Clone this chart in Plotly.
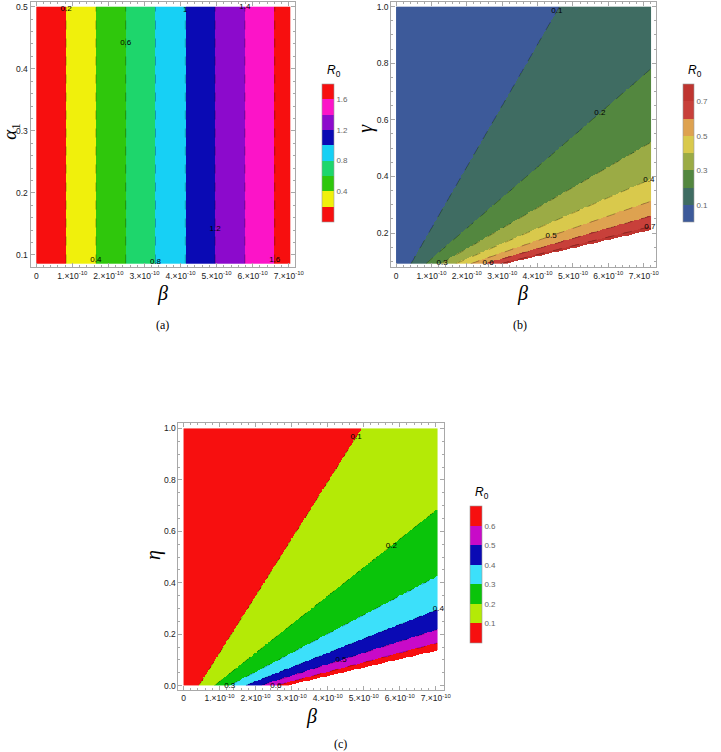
import numpy as np
import plotly.graph_objects as go

W, H = 721, 752

# ---- values ----
beta_ticks = [0, 1e-10, 2e-10, 3e-10, 4e-10, 5e-10, 6e-10, 7e-10]
beta_ticktext = ["0"] + [f"{i}.×10<sup>-10</sup>" for i in range(1, 8)]

# (a) R0 grows linearly with beta, independent of alpha_1
a_beta_max = 7.05e-10
a_alpha_range = [0.0855, 0.5]
a_r0_per_beta = 2.42e9
a_levels = [0.2, 0.4, 0.6, 0.8, 1.0, 1.2, 1.4, 1.6]
a_label_text = ["0.2", "0.4", "0.6", "0.8", "1", "1.2", "1.4", "1.6"]
a_label_alpha = [0.496, 0.092, 0.442, 0.089, 0.494, 0.142, 0.4995, 0.092]
a_colors = ["#f70f0f", "#f0f00c", "#2fc70c", "#1ed66c", "#17d0f5",
            "#0a0ab4", "#8c0acc", "#fc14c8", "#f70f0f"]
a_cbar_ticks = [0.4, 0.8, 1.2, 1.6]

# (b) R0 = coef * beta / gamma, blank above cutoff
b_beta_max = 7.2e-10
b_gamma_range = [0.09, 1.0]
b_coef = 2.167e8
b_cutoff = 0.745
b_levels = [0.1, 0.2, 0.3, 0.4, 0.5, 0.6, 0.7]
b_label_gamma = [0.985, 0.624, 0.094, 0.387, 0.19, 0.094, 0.222]
b_colors = ["#3d5a9a", "#3f6c62", "#53873f", "#9bab45", "#d9c94c",
            "#dea250", "#c8403a", "#bf3530"]
b_cbar_ticks = [0.1, 0.3, 0.5, 0.7]

# (c) R0 = coef * beta / (eta + shift), blank above cutoff
c_beta_max = 7.05e-10
c_eta_range = [0.0, 1.0]
c_coef = 2.215e8
c_shift = 0.0946
c_cutoff = 0.675
c_levels = [0.1, 0.2, 0.3, 0.4, 0.5, 0.6]
c_label_eta = [0.966, 0.544, 0.0, 0.297, 0.099, 0.0]
c_colors = ["#f70f0f", "#b4ea06", "#0ac40a", "#3ce0fa", "#0a0ab4",
            "#c80ac8", "#f70f0f"]
c_cbar_ticks = [0.1, 0.2, 0.3, 0.4, 0.5, 0.6]

N = 320


def px(x):
    return x / W


def py(y):
    return 1 - y / H


def steps(colors):
    n = len(colors)
    cs = []
    for i, c in enumerate(colors):
        cs.append([i / n, c])
        cs.append([(i + 1) / n, c])
    return cs


def grid(xmax, yr):
    dx = xmax / N
    dy = (yr[1] - yr[0]) / N
    x = np.linspace(dx / 2, xmax - dx / 2, N)
    y = np.linspace(yr[0] + dy / 2, yr[1] - dy / 2, N)
    return x, y


fig = go.Figure()

# panel a
ax_, ay_ = grid(a_beta_max, a_alpha_range)
BX, AY = np.meshgrid(ax_, ay_)
za = (a_r0_per_beta * BX + 0 * AY).astype(np.float32)

# panel b
bx_, by_ = grid(b_beta_max, b_gamma_range)
BX, GY = np.meshgrid(bx_, by_)
zb = (b_coef * BX / GY)
zb_fill = np.where(zb > b_cutoff, np.nan, zb).astype(np.float32)

# panel c
cx_, cy_ = grid(c_beta_max, c_eta_range)
BX, EY = np.meshgrid(cx_, cy_)
zc = (c_coef * BX / (EY + c_shift))
zc_fill = np.where(zc > c_cutoff, np.nan, zc).astype(np.float32)

# contour label spots: beta on each level line at the read-off height
a_label_beta = [lv / a_r0_per_beta for lv in a_levels]
b_label_beta = [lv * g / b_coef for lv, g in zip(b_levels, b_label_gamma)]
c_label_beta = [lv * (e + c_shift) / c_coef for lv, e in zip(c_levels, c_label_eta)]

panels = [
    dict(x=ax_, y=ay_, zf=za, zl=za, colors=a_colors, zmax=0.2 * len(a_colors),
         levels=a_levels, ticks=a_cbar_ticks, xa="x", ya="y",
         lab=(a_label_beta, a_label_alpha, a_label_text),
         cb=dict(x0=327, y0=83.3, y1=221, th=12)),
    dict(x=bx_, y=by_, zf=zb_fill, zl=zb.astype(np.float32), colors=b_colors,
         zmax=0.1 * len(b_colors), levels=b_levels, ticks=b_cbar_ticks,
         xa="x2", ya="y2",
         lab=(b_label_beta, b_label_gamma, [f"{v:.1f}" for v in b_levels]),
         cb=dict(x0=693, y0=83.3, y1=221, th=11)),
    dict(x=cx_, y=cy_, zf=zc_fill, zl=zc.astype(np.float32), colors=c_colors,
         zmax=0.1 * len(c_colors), levels=c_levels, ticks=c_cbar_ticks,
         xa="x3", ya="y3",
         lab=(c_label_beta, c_label_eta, [f"{v:.1f}" for v in c_levels]),
         cb=dict(x0=477, y0=506, y1=643, th=12)),
]

for p in panels:
    cb = p["cb"]
    fig.add_trace(go.Heatmap(
        x=p["x"], y=p["y"], z=p["zf"], zmin=0, zmax=p["zmax"],
        colorscale=steps(p["colors"]), zsmooth=False, hoverinfo="skip",
        xaxis=p["xa"], yaxis=p["ya"],
        colorbar=dict(
            x=px(cb["x0"]), xanchor="left", xpad=0, ypad=0,
            y=py((cb["y0"] + cb["y1"]) / 2), yanchor="middle",
            len=cb["y1"] - cb["y0"], lenmode="pixels", thickness=cb["th"],
            outlinewidth=0.6, outlinecolor="#999",
            tickmode="array", tickvals=p["ticks"],
            ticktext=[f"{t:.1f}" for t in p["ticks"]],
            ticks="", tickfont=dict(size=8, color="#666", family="Liberation Sans"),
        ),
    ))
    lv = p["levels"]
    fig.add_trace(go.Contour(
        x=p["x"], y=p["y"], z=p["zl"], showscale=False, hoverinfo="skip",
        xaxis=p["xa"], yaxis=p["ya"],
        contours=dict(coloring="none", start=lv[0], end=lv[-1],
                      size=round(lv[1] - lv[0], 3), showlabels=False),
        line=dict(color="rgba(0,0,0,0.42)", width=0.7, dash="dash"),
    ))
    lx, ly, lt = p["lab"]
    fig.add_trace(go.Scatter(
        x=lx, y=ly, text=lt, mode="text", hoverinfo="skip", cliponaxis=False,
        xaxis=p["xa"], yaxis=p["ya"],
        textfont=dict(size=8, color="black", family="Liberation Sans"),
    ))

axis_common = dict(
    showline=True, linecolor="#a8a8a8", linewidth=1, mirror="ticks",
    ticks="inside", ticklen=4, tickcolor="#a8a8a8", showgrid=False,
    zeroline=False, tickfont=dict(size=8.5, color="#222", family="Liberation Sans"),
)


def xaxis(x0, x1, r):
    return dict(axis_common, domain=[px(x0), px(x1)], range=r,
                tickmode="array", tickvals=beta_ticks, ticktext=beta_ticktext,
                minor=dict(tickmode="linear", tick0=0, dtick=2e-11,
                           ticks="inside", ticklen=2, tickcolor="#a8a8a8"))


def yaxis(y0, y1, r, vals, fmt, mdt):
    return dict(axis_common, domain=[py(y1), py(y0)], range=r,
                tickmode="array", tickvals=vals,
                ticktext=[format(v, fmt) for v in vals],
                minor=dict(tickmode="linear", tick0=0, dtick=mdt,
                           ticks="inside", ticklen=2, tickcolor="#a8a8a8"))


fig.update_layout(
    width=W, height=H, margin=dict(l=0, r=0, t=0, b=0),
    paper_bgcolor="white", plot_bgcolor="white", showlegend=False,
    xaxis=dict(xaxis(31, 299, [-0.159e-10, 7.17e-10]), anchor="y"),
    yaxis=dict(yaxis(1.5, 266.7, [0.08, 0.5068],
                     [0.1, 0.2, 0.3, 0.4, 0.5], ".1f", 0.02), anchor="x"),
    xaxis2=dict(xaxis(396.7, 665.7, [-0.137e-10, 7.36e-10]), anchor="y2"),
    yaxis2=dict(yaxis(1.5, 266.7, [0.0787, 1.0148],
                      [0.2, 0.4, 0.6, 0.8, 1.0], ".1f", 0.05), anchor="x2"),
    xaxis3=dict(xaxis(181, 450, [-0.14e-10, 7.22e-10]), anchor="y3"),
    yaxis3=dict(yaxis(422.7, 690, [-0.0175, 1.0206],
                      [0.0, 0.2, 0.4, 0.6, 0.8, 1.0], ".1f", 0.05), anchor="x3"),
)

serif = "Liberation Serif"
texts = [
    ("<i>β</i>", 165, 293, 20, 0, serif),
    ("<i>α</i><sub>1</sub>", 11, 130, 19, -90, serif),
    ("<i>β</i>", 530, 293, 20, 0, serif),
    ("<i>γ</i>", 371, 127, 20, -90, serif),
    ("<i>β</i>", 316, 716, 20, 0, serif),
    ("<i>η</i>", 155, 555, 20, -90, serif),
    ("(a)", 165, 324, 12, 0, serif),
    ("(b)", 527, 324, 12, 0, serif),
    ("(c)", 345, 744, 12, 0, serif),
    ("<i>R</i><sub>0</sub>", 339, 70, 12, 0, "Liberation Sans"),
    ("<i>R</i><sub>0</sub>", 705, 70, 12, 0, "Liberation Sans"),
    ("<i>R</i><sub>0</sub>", 489, 493, 12, 0, "Liberation Sans"),
]
for t, x, y, s, a, fam in texts:
    fig.add_annotation(text=t, x=px(x), y=py(y), xref="paper", yref="paper",
                       showarrow=False, textangle=a, xanchor="center",
                       yanchor="middle",
                       font=dict(size=s, color="black", family=fam))

# drop the default body margin so the figure fills the window from its corner
fig.write_html("out.html", config={"displayModeBar": False},
               post_script="document.body.style.margin = '0';")
